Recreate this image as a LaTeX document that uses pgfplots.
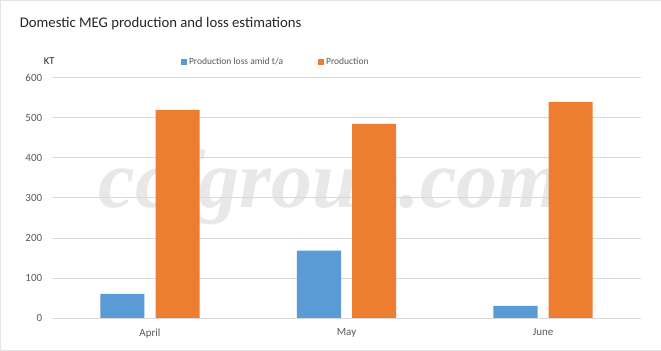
\documentclass[border=0pt]{standalone}
\usepackage{pgfplots}
\pgfplotsset{compat=1.18}
\usepackage{fontspec}
\setmainfont{Carlito}
\newfontfamily\wmfont{Liberation Serif}
\definecolor{cblue}{HTML}{5B9BD5}
\definecolor{corange}{HTML}{ED7D31}
\definecolor{grid}{HTML}{D9D9D9}
\definecolor{txt}{HTML}{595959}
\begin{document}
\begin{tikzpicture}[x=1pt,y=1pt]
\draw[draw=grid!70, fill=white] (0.5,0.5) rectangle (660.5,350.5);
\node[anchor=base west, font=\fontsize{14.7}{18}\selectfont, text=black!85, inner sep=0] at (20,323) {Domestic MEG production and loss estimations};
\node[anchor=base, font=\wmfont\bfseries\itshape\fontsize{82}{86}\selectfont, text=black!9, inner sep=0] at (330,143) {ccfgroup.com};
\node[anchor=base west, font=\fontsize{10.5}{12}\selectfont, text=black!85, inner sep=0] at (44,286) {KT};
\begin{axis}[
  at={(52pt,33pt)}, anchor=south west,
  scale only axis, width=589pt, height=240pt,
  ymin=0, ymax=600, ytick={0,100,...,600},
  xmin=-0.5, xmax=2.5, xtick={0,1,2}, xticklabels={April,May,June},
  /pgf/number format/assume math mode=true,
  ybar, bar width=44pt,
  ymajorgrids, grid style={draw=grid, line width=0.8pt},
  axis line style={draw=none},
  axis x line*=bottom, x axis line style={draw=grid, line width=0.8pt},
  tick style={draw=none},
  ticklabel style={font=\fontsize{11}{13}\selectfont, text=txt},
  yticklabel style={xshift=-6pt},
  xticklabel style={yshift=-3pt},
  legend style={at={(0.38,1.067)}, anchor=center, draw=none, fill=none,
    font=\fontsize{9.5}{12}\selectfont, text=txt, legend columns=2,
    /tikz/every even column/.append style={column sep=33pt}},
  legend image code/.code={\fill[#1] (0pt,-3pt) rectangle (6pt,3pt);},
]
\addplot[fill=cblue, draw=none, bar shift=-27.5pt] coordinates {(0,60) (1,168) (2,30)};
\addplot[fill=corange, draw=none, bar shift=27.5pt] coordinates {(0,520) (1,485) (2,540)};
\legend{Production loss amid t/a, Production}
\end{axis}
\end{tikzpicture}
\end{document}
